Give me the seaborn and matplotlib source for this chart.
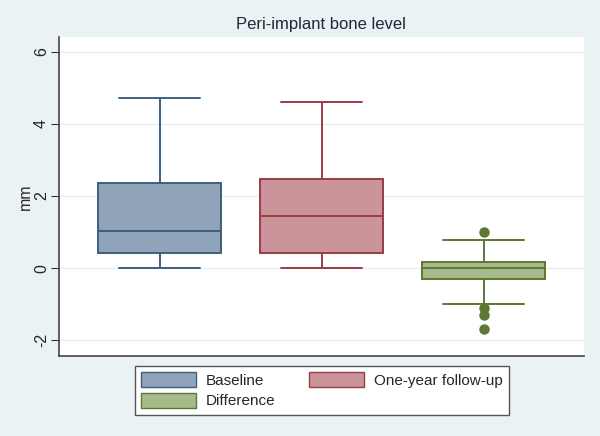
import matplotlib
matplotlib.use("Agg")
import matplotlib.pyplot as plt
import seaborn as sns
from matplotlib.patches import Patch

groups = ["Baseline", "One-year follow-up", "Difference"]
whislo = [0.0, 0.0, -1.0]
q1 = [0.42, 0.42, -0.3]
med = [1.02, 1.44, 0.0]
q3 = [2.35, 2.47, 0.17]
whishi = [4.7, 4.6, 0.78]
fliers = [[], [], [1.0, -1.1, -1.3, -1.7]]

fills = ["#8FA4B9", "#C9959A", "#A7BA8C"]
edges = ["#3E5F7F", "#9A3C47", "#5D7832"]

sns.set_style("white")
plt.rcParams["font.family"] = ["Arial", "Liberation Sans", "DejaVu Sans"]

fig = plt.figure(figsize=(6, 4.36), dpi=100, facecolor="#EAF2F3")
ax = fig.add_axes([0.098, 0.183, 0.875, 0.732])
ax.set_facecolor("white")

for i, g in enumerate(groups):
    st = [dict(label=g, whislo=whislo[i], q1=q1[i], med=med[i], q3=q3[i],
               whishi=whishi[i], fliers=fliers[i])]
    ax.bxp(st, positions=[i + 1], widths=0.76, patch_artist=True,
           boxprops=dict(facecolor=fills[i], edgecolor=edges[i], linewidth=1.4),
           medianprops=dict(color=edges[i], linewidth=1.4),
           whiskerprops=dict(color=edges[i], linewidth=1.4),
           capprops=dict(color=edges[i], linewidth=1.4),
           capwidths=0.5,
           flierprops=dict(marker="o", markerfacecolor=edges[i], markeredgecolor=edges[i],
                           markersize=6.5))

ax.set_xlim(0.377, 3.617)
ax.set_ylim(-2.44, 6.4)
ax.set_yticks([-2, 0, 2, 4, 6])
ax.set_yticklabels(["-2", "0", "2", "4", "6"], rotation=90, va="center", fontsize=11.5)
ax.set_xticks([])
ax.yaxis.grid(True, color="#EBEEEE", linewidth=1)
ax.set_axisbelow(True)
ax.tick_params(axis="y", left=True, length=6, color="#333333", pad=1)
ax.set_ylabel("mm", fontsize=11.5)
ax.yaxis.set_label_coords(-0.05, 0.5)
ax.set_title("Peri-implant bone level", fontsize=12, color="#1a2a3a", pad=6)

for s in ["top", "right"]:
    ax.spines[s].set_visible(False)
for s in ["left", "bottom"]:
    ax.spines[s].set_color("#444444")
    ax.spines[s].set_linewidth(1.2)

handles = [Patch(facecolor=fills[0], edgecolor=edges[0], label=groups[0]),
           Patch(facecolor=fills[2], edgecolor=edges[2], label=groups[2]),
           Patch(facecolor=fills[1], edgecolor=edges[1], label=groups[1])]
leg = fig.legend(handles=handles, ncol=2, loc="center", bbox_to_anchor=(0.537, 0.105),
                 frameon=True, fancybox=False, framealpha=1, edgecolor="#555555",
                 fontsize=11, handlelength=3.6, handleheight=1.1, columnspacing=2.2,
                 handletextpad=0.65, labelspacing=0.35, borderpad=0.4)
leg.get_frame().set_linewidth(1.0)

fig.savefig("out.png", dpi=100, facecolor=fig.get_facecolor())
